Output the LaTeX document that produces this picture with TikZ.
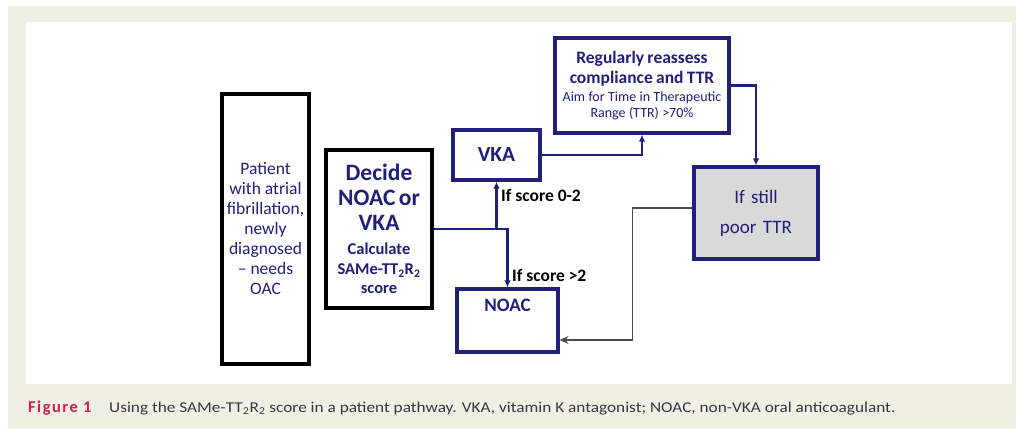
\documentclass[tikz,border=0pt]{standalone}
\usepackage{fontspec}
\setmainfont{Carlito}
\usetikzlibrary{arrows.meta, positioning, calc}

\definecolor{navy}{RGB}{32,32,122}
\definecolor{pagebeige}{RGB}{240,239,227}
\definecolor{boxgray}{RGB}{217,217,217}
\definecolor{figred}{RGB}{214,28,84}
\definecolor{captiongray}{RGB}{55,55,70}

\begin{document}
\begin{tikzpicture}[x=1pt, y=-1pt,
  blackbox/.style={draw=black, line width=3.3pt, fill=white, inner sep=0pt, align=center},
  bluebox/.style={draw=navy, line width=3.1pt, fill=white, inner sep=0pt, align=center, text=navy},
  flow/.style={draw=navy, line width=2.6pt, -{Latex[length=7pt,width=6.5pt]}},
  back/.style={draw=black!70, line width=1.5pt, -{Stealth[length=9pt,width=8pt,inset=3pt]}},
  score/.style={anchor=west, font=\fontsize{17.5}{20}\selectfont\bfseries, inner sep=0pt}]

\useasboundingbox (0,0) rectangle (1016,429);

% Page and panel
\fill[white] (0,0) rectangle (1016,429);
\fill[pagebeige] (8,6) rectangle (1016,429);
\fill[white] (26,22) rectangle (1012,384);

% Boxes
\node[blackbox, minimum width=87pt, minimum height=270pt, font=\fontsize{17.5}{20}\selectfont, text=navy] (patient) at (265.5,229)
  {Patient\\with atrial\\fibrillation,\\newly\\diagnosed\\– needs\\OAC};

\node[blackbox, minimum width=106pt, minimum height=158pt, text=navy, text width=102pt] (decide) at (379,229)
  {{\fontsize{23.5}{25}\selectfont\bfseries Decide\\NOAC or\\VKA\par}\vspace{5pt}
   {\fontsize{16.5}{19.5}\selectfont\bfseries Calculate\\SAMe-TT\textsubscript{2}R\textsubscript{2}\\score\par}};

\node[bluebox, minimum width=87pt, minimum height=50pt, font=\fontsize{21.5}{24}\selectfont\bfseries] (vka) at (496.5,155) {VKA};

\node[bluebox, minimum width=174pt, minimum height=95pt, text width=170pt] (reg) at (642,85.5)
  {{\fontsize{17.5}{19.5}\selectfont\bfseries Regularly reassess\\compliance and TTR\par}\vspace{3pt}
   {\fontsize{14}{15.5}\selectfont Aim for Time in Therapeutic\\Range (TTR) >70\%\par}};

\node[bluebox, fill=boxgray, minimum width=124pt, minimum height=92pt, font=\fontsize{19}{30}\selectfont, text width=120pt] (still) at (756,213)
  {If still\\poor TTR};

\node[bluebox, minimum width=101pt, minimum height=63pt] (noac) at (507.5,320.5) {};
\node[text=navy, font=\fontsize{19}{22}\selectfont\bfseries, below=8pt of noac.north] (noactext) {NOAC};

% Connectors
\draw[flow] (decide.east) -| (vka.south);
\draw[flow] (decide.east) -| (noac.north);
\draw[flow] (vka.east) -| (reg.south);
\draw[flow] (reg.east) -| (still.north);
\draw[back] ([yshift=5pt]still.west) -- ++(-60,0) |- ([yshift=-19.5pt]noac.east);

% Labels
\node[score] (low) at (501,195) {If score 0-2};
\node[score] (high) at (512,275) {If score >2};

% Caption
\node[anchor=west, inner sep=0pt, text=figred, font=\fontsize{16.5}{16}\selectfont\bfseries] (fignum) at (28,408)
  {\addfontfeatures{LetterSpace=9}Figure 1};
\node[anchor=west, inner sep=0pt, text=captiongray, font=\fontsize{15}{15}\selectfont] (caption) at (109,408.5)
  {\scalebox{1.15}[1]{Using the SAMe-TT\textsubscript{2}R\textsubscript{2} score in a patient pathway. VKA, vitamin K antagonist; NOAC, non-VKA oral anticoagulant.}};

\end{tikzpicture}
\end{document}
